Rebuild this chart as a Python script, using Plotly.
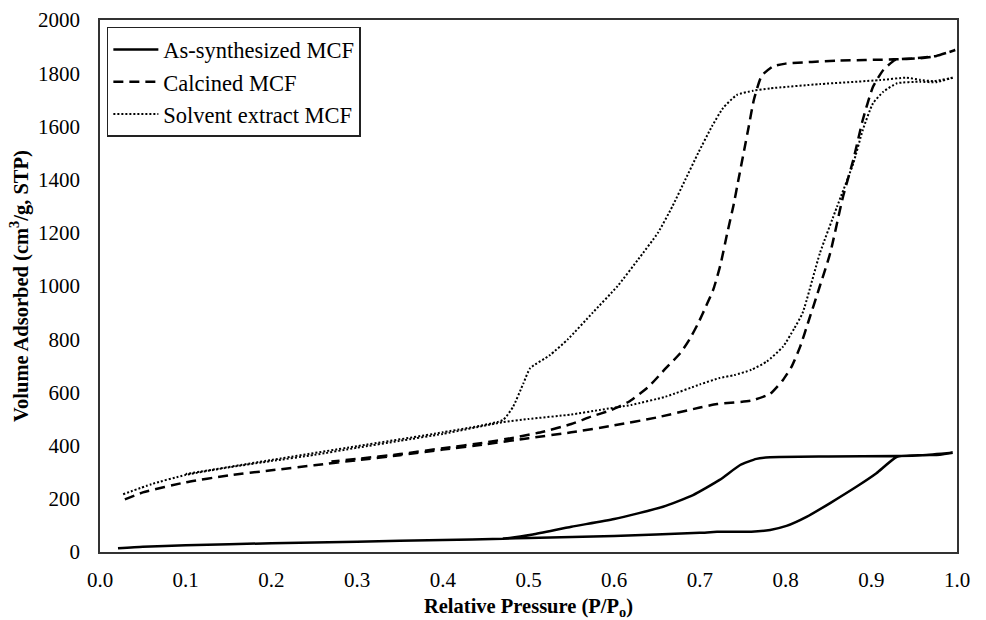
import plotly.graph_objects as go

# As-synthesized MCF (solid): adsorption then desorption
as_ads_x = [0.021, 0.05, 0.1, 0.2, 0.3, 0.4, 0.47, 0.5, 0.6, 0.7, 0.72, 0.76, 0.782, 0.801, 0.825, 0.852, 0.883, 0.906, 0.93, 0.96, 0.98, 0.995]
as_ads_y = [14, 20, 25, 33, 39, 45, 50, 53, 60, 72, 76, 76, 83, 98, 133, 184, 246, 296, 358, 364, 366, 373]
as_des_x = [0.995, 0.96, 0.93, 0.85, 0.782, 0.766, 0.747, 0.723, 0.692, 0.657, 0.6, 0.55, 0.505, 0.478, 0.47]
as_des_y = [373, 364, 361, 359, 356, 350, 327, 271, 214, 170, 124, 95, 66, 53, 51]

# Calcined MCF (dashed)
ca_ads_x = [0.029, 0.05, 0.1, 0.15, 0.2, 0.25, 0.3, 0.35, 0.4, 0.45, 0.5, 0.55, 0.6, 0.65, 0.7, 0.72, 0.76, 0.782, 0.797, 0.807, 0.817, 0.826, 0.84, 0.852, 0.867, 0.879, 0.89, 0.902, 0.914, 0.928, 0.95, 0.976, 0.998]
ca_ads_y = [198, 224, 262, 288, 307, 326, 345, 364, 385, 405, 428, 450, 476, 506, 543, 556, 569, 595, 647, 697, 772, 860, 1000, 1123, 1336, 1474, 1624, 1749, 1812, 1850, 1856, 1865, 1887]
ca_des_x = [0.998, 0.976, 0.957, 0.926, 0.86, 0.8, 0.785, 0.772, 0.763, 0.757, 0.751, 0.745, 0.739, 0.732, 0.724, 0.716, 0.708, 0.698, 0.688, 0.677, 0.66, 0.64, 0.617, 0.597, 0.573, 0.55, 0.517, 0.483, 0.45, 0.4, 0.35, 0.3, 0.27]
ca_des_y = [1887, 1865, 1856, 1852, 1847, 1836, 1825, 1790, 1700, 1600, 1500, 1400, 1300, 1200, 1080, 990, 930, 860, 800, 747, 690, 621, 565, 534, 509, 481, 452, 430, 412, 390, 368, 350, 340]

# Solvent extract MCF (dotted)
so_ads_x = [0.027, 0.06, 0.1, 0.15, 0.2, 0.25, 0.3, 0.35, 0.4, 0.47, 0.5, 0.55, 0.583, 0.62, 0.66, 0.7, 0.723, 0.74, 0.76, 0.778, 0.797, 0.81, 0.82, 0.84, 0.86, 0.879, 0.89, 0.902, 0.914, 0.93, 0.957, 0.976, 0.996]
so_ads_y = [217, 255, 290, 318, 342, 365, 392, 418, 444, 488, 500, 517, 534, 553, 584, 630, 654, 665, 685, 716, 772, 840, 900, 1123, 1298, 1461, 1586, 1687, 1730, 1762, 1768, 1766, 1784]
so_des_x = [0.996, 0.973, 0.957, 0.941, 0.91, 0.84, 0.782, 0.762, 0.743, 0.727, 0.714, 0.698, 0.683, 0.668, 0.651, 0.628, 0.604, 0.575, 0.546, 0.525, 0.502, 0.494, 0.482, 0.47, 0.4, 0.3, 0.2, 0.1]
so_des_y = [1784, 1770, 1775, 1783, 1774, 1759, 1743, 1734, 1718, 1669, 1600, 1500, 1400, 1300, 1200, 1100, 1000, 900, 800, 740, 691, 634, 546, 496, 450, 398, 346, 293]

series_names = ["As-synthesized MCF", "Calcined MCF", "Solvent extract MCF"]
x_ticks = [0.0, 0.1, 0.2, 0.3, 0.4, 0.5, 0.6, 0.7, 0.8, 0.9, 1.0]
x_tick_text = ["0.0", "0.1", "0.2", "0.3", "0.4", "0.5", "0.6", "0.7", "0.8", "0.9", "1.0"]
y_ticks = [0, 200, 400, 600, 800, 1000, 1200, 1400, 1600, 1800, 2000]

FONT = "Liberation Serif"
tick_font = dict(family=FONT, size=21, color="black")
title_font = dict(family=FONT, size=20.5, color="black")

fig = go.Figure()
fig.add_trace(go.Scatter(x=as_ads_x + as_des_x, y=as_ads_y + as_des_y, mode="lines",
                         name=series_names[0], line=dict(color="black", width=2.5, shape="spline", smoothing=0.5)))
fig.add_trace(go.Scatter(x=ca_ads_x + ca_des_x, y=ca_ads_y + ca_des_y, mode="lines",
                         name=series_names[1], line=dict(color="black", width=2.5, dash="10px,6px", shape="spline", smoothing=0.5)))
fig.add_trace(go.Scatter(x=so_ads_x + so_des_x, y=so_ads_y + so_des_y, mode="lines",
                         name=series_names[2], line=dict(color="black", width=2, dash="2px,2px", shape="spline", smoothing=0.5)))

fig.update_layout(
    width=986, height=620,
    margin=dict(l=100, r=29, t=20, b=68),
    paper_bgcolor="white", plot_bgcolor="white",
    font=dict(family=FONT, size=20, color="black"),
    showlegend=True,
    legend=dict(x=0.008, y=0.987, xanchor="left", yanchor="top",
                bordercolor="#222", borderwidth=1.5, bgcolor="white",
                itemwidth=45,
                font=dict(family=FONT, size=22.5, color="black"), tracegroupgap=0),
    xaxis=dict(range=[0, 1], tickvals=x_ticks, ticktext=x_tick_text, showgrid=False, zeroline=False,
               showline=True, mirror=True, linecolor="#333", linewidth=1.5, ticks="",
               ticklabelstandoff=8, tickfont=tick_font, automargin=False,
               title=dict(text="<b>Relative Pressure (P/P<sub>o</sub>)</b>", font=title_font, standoff=9)),
    yaxis=dict(range=[0, 2000], tickvals=y_ticks, showgrid=False, zeroline=False,
               showline=True, mirror=True, linecolor="#333", linewidth=1.5, ticks="",
               ticklabelstandoff=14, tickfont=tick_font, automargin=False,
               title=dict(text="<b>Volume Adsorbed (cm<sup>3</sup>/g, STP)</b>", font=title_font, standoff=4)),
)

fig.write_html("out.html")
